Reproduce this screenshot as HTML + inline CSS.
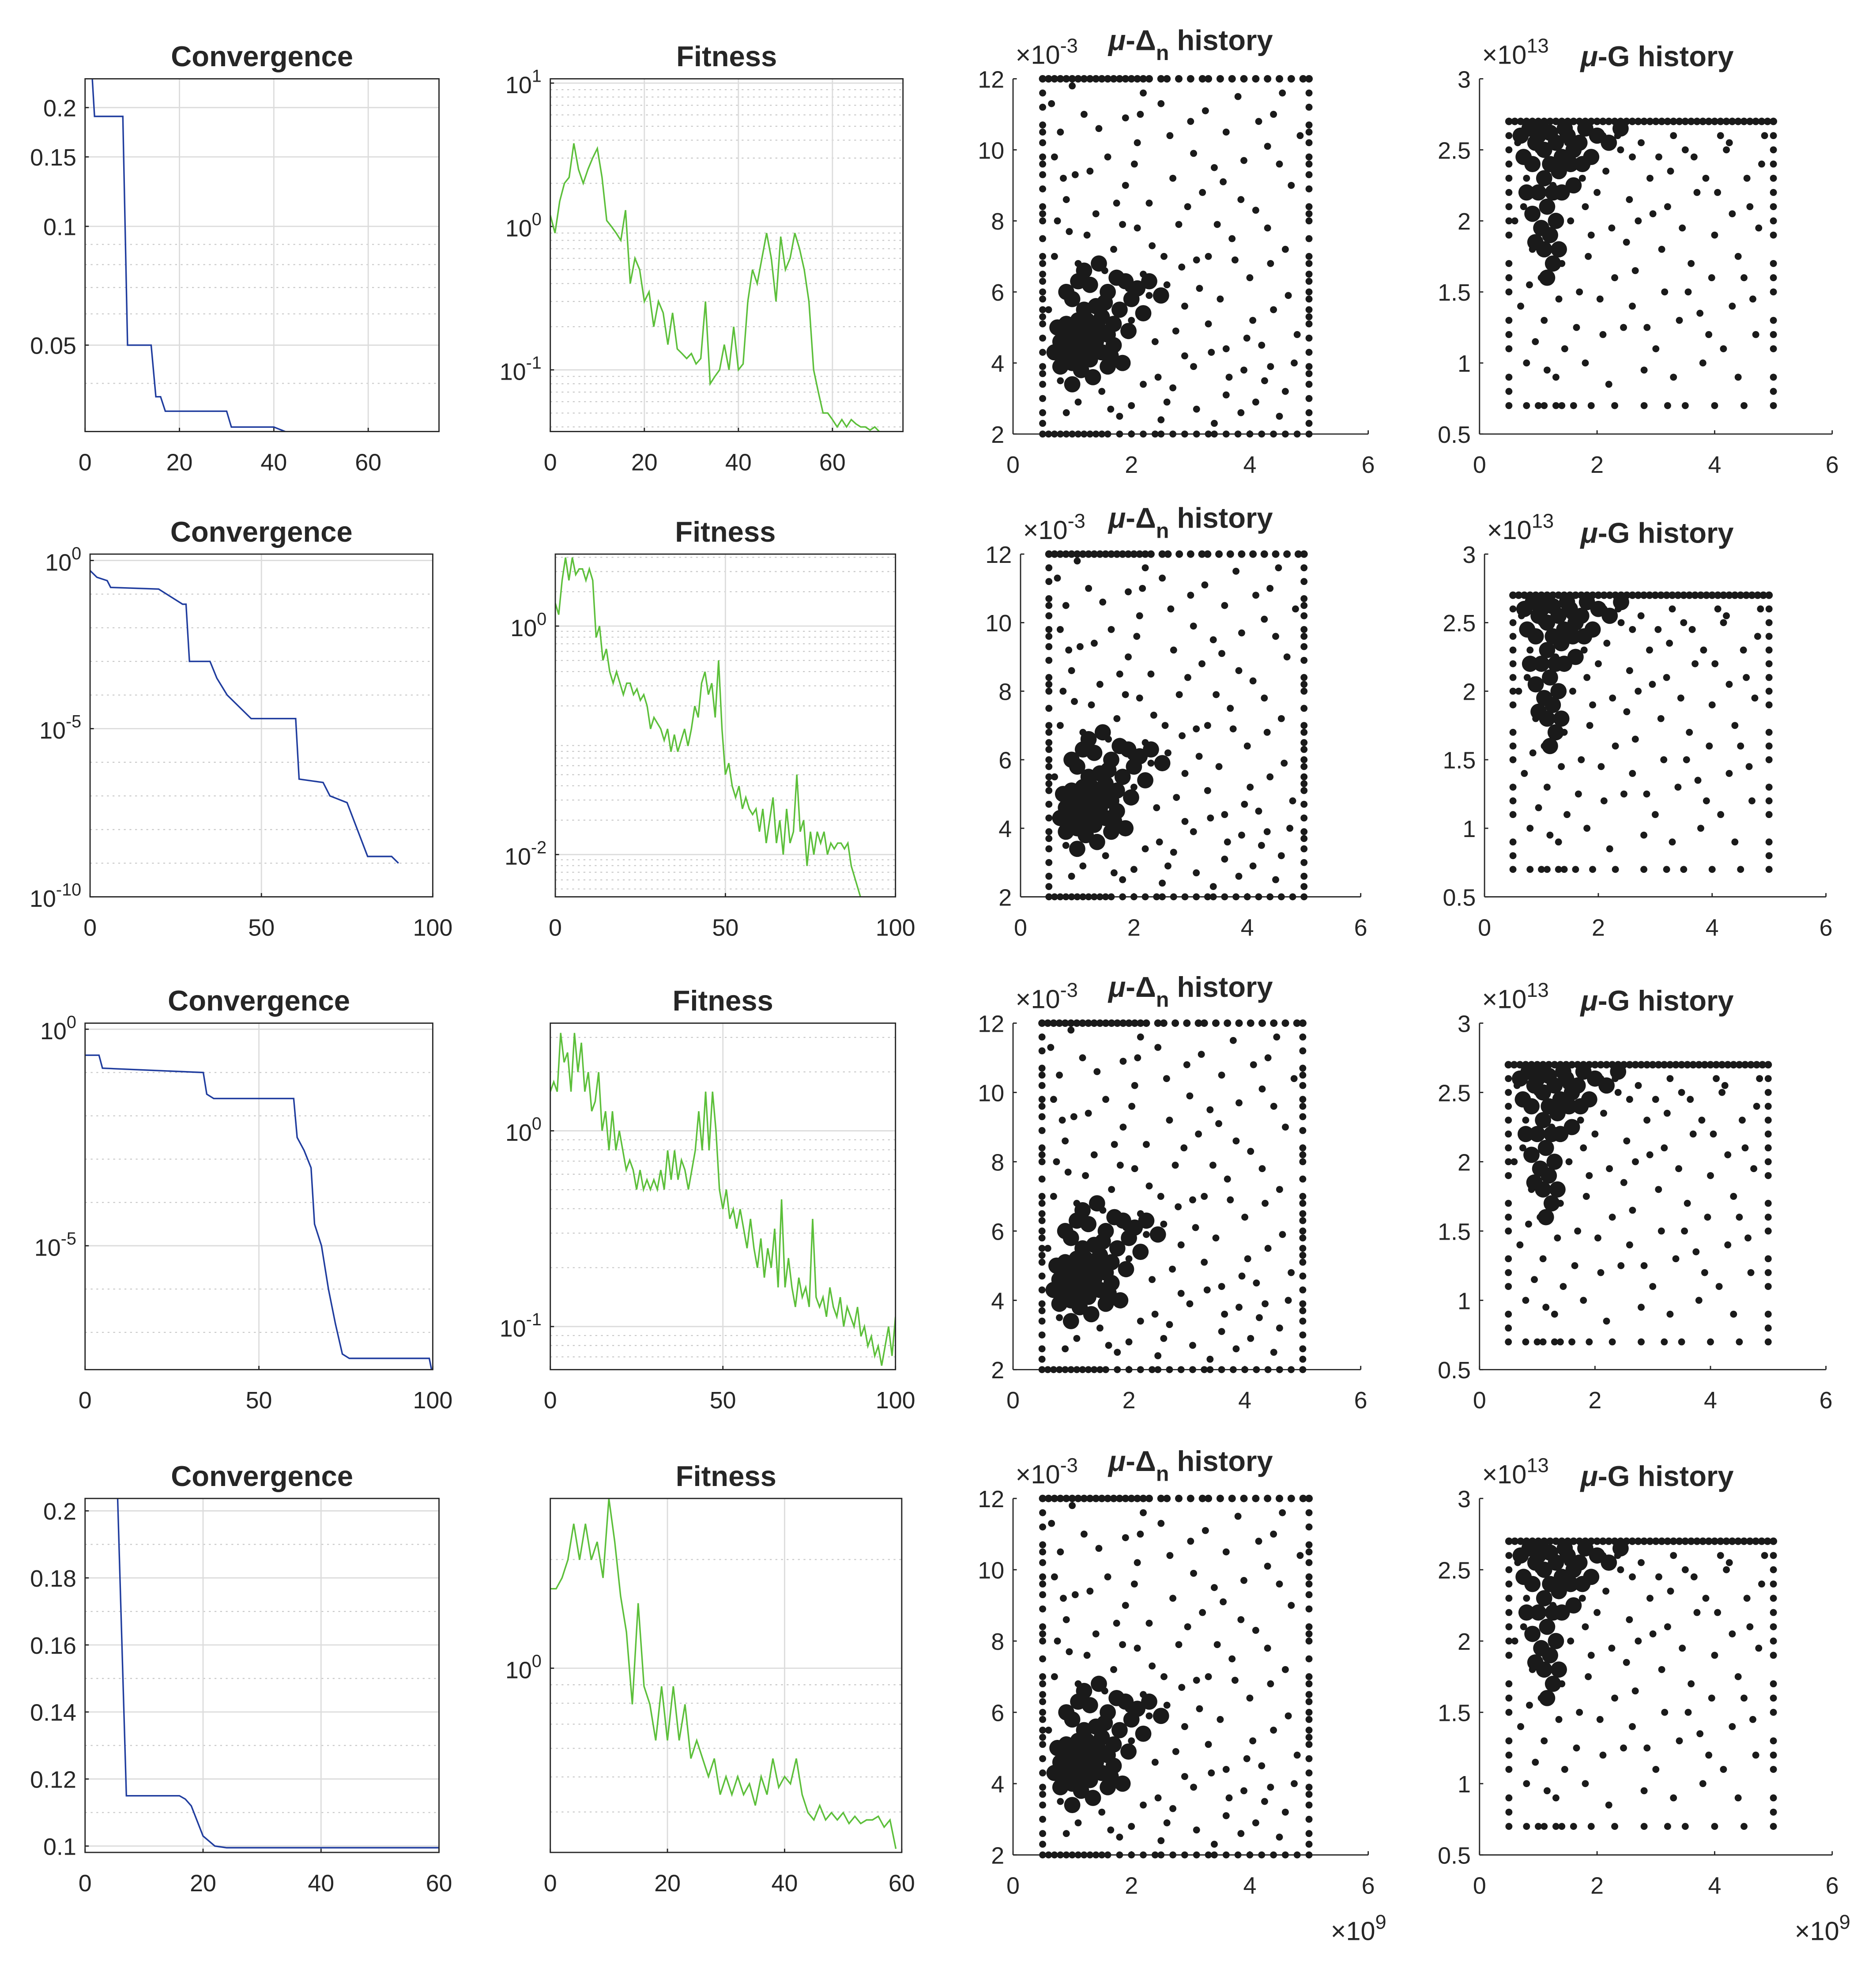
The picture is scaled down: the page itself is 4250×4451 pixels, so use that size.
<!DOCTYPE html>
<html><head><meta charset="utf-8"><style>
html,body{margin:0;padding:0;background:#fff}
svg{display:block}
text{font-family:"Liberation Sans",Arial,sans-serif;fill:#262626}
</style></head><body>
<svg id="fig" xmlns="http://www.w3.org/2000/svg" width="4250" height="4451" viewBox="0 0 1500 1571"></svg>
<script>
// ---------- data ----------
const conv1X=[0,1.5,2,8,9,14,15,16,17,30,31,40,43,46,75];
const conv1Y=[0.24,0.24,0.19,0.19,0.05,0.05,0.037,0.037,0.034,0.034,0.031,0.031,0.030,0.029,0.029];
const fit1Y=[1.2,0.9,1.5,2,2.2,3.8,2.5,2,2.5,3,3.5,2.2,1.1,1,0.9,0.8,1.3,0.4,0.6,0.5,0.3,0.35,0.2,0.3,0.25,0.15,0.25,0.14,0.13,0.12,0.13,0.11,0.12,0.3,0.08,0.09,0.1,0.15,0.1,0.2,0.1,0.11,0.3,0.5,0.4,0.6,0.9,0.6,0.3,0.85,0.5,0.6,0.9,0.7,0.5,0.3,0.1,0.07,0.05,0.05,0.045,0.04,0.045,0.04,0.045,0.042,0.04,0.04,0.038,0.04,0.037,0.036,0.037,0.036,0.037,0.037];
const conv2X=[0,2,5,6,20,27,28,29,35,37,40,45,47,60,61,68,70,75,78,81,88,90];
const conv2LogY=[-0.3,-0.5,-0.6,-0.8,-0.85,-1.3,-1.3,-3,-3,-3.5,-4,-4.5,-4.7,-4.7,-6.5,-6.6,-7,-7.2,-8,-8.8,-8.8,-9];
const fit2LogY=[0.2,0.1,0.4,0.6,0.4,0.6,0.45,0.5,0.5,0.4,0.5,0.4,-0.1,0,-0.3,-0.2,-0.4,-0.5,-0.4,-0.5,-0.6,-0.5,-0.5,-0.6,-0.55,-0.65,-0.6,-0.7,-0.9,-0.8,-0.85,-0.9,-1,-0.9,-1.1,-0.95,-1.1,-1,-0.9,-1.05,-0.9,-0.7,-0.8,-0.5,-0.4,-0.6,-0.5,-0.8,-0.3,-0.9,-1.3,-1.2,-1.4,-1.5,-1.4,-1.6,-1.5,-1.6,-1.65,-1.6,-1.8,-1.6,-1.9,-1.7,-1.5,-1.9,-1.7,-2,-1.6,-1.9,-1.8,-1.3,-1.8,-1.7,-2.1,-1.8,-2,-1.8,-1.9,-1.8,-2,-1.9,-1.95,-1.9,-1.9,-1.95,-1.9,-2.1,-2.2,-2.3,-2.4];
const conv3X=[0,4,5,34,35,37,60,61,63,65,66,68,70,72,74,76,99,100];
const conv3LogY=[-0.6,-0.6,-0.9,-1,-1.5,-1.6,-1.6,-2.5,-2.8,-3.2,-4.5,-5,-6,-6.8,-7.5,-7.6,-7.6,-8];
const fit3LogY=[0.2,0.25,0.2,0.5,0.35,0.4,0.2,0.5,0.3,0.45,0.2,0.3,0.1,0.15,0.3,0,0.1,-0.1,0.1,-0.1,0,-0.1,-0.2,-0.15,-0.2,-0.3,-0.2,-0.3,-0.25,-0.3,-0.25,-0.3,-0.2,-0.3,-0.1,-0.25,-0.1,-0.25,-0.15,-0.2,-0.3,-0.2,-0.1,0.1,-0.1,0.2,-0.1,0.2,0,-0.3,-0.4,-0.3,-0.45,-0.4,-0.5,-0.4,-0.5,-0.6,-0.45,-0.6,-0.7,-0.55,-0.75,-0.6,-0.7,-0.5,-0.8,-0.35,-0.8,-0.65,-0.8,-0.9,-0.75,-0.85,-0.8,-0.9,-0.45,-0.85,-0.9,-0.85,-0.95,-0.8,-0.9,-0.95,-0.85,-1,-0.9,-0.95,-1,-0.9,-1.05,-1,-1.1,-1.05,-1.15,-1.1,-1.2,-1.1,-1,-1.15,-0.95];
const conv4X=[0,5.5,7,16,17,18,20,22,24,60];
const conv4Y=[0.21,0.205,0.115,0.115,0.114,0.112,0.103,0.1,0.0995,0.0995];
const fit4LogY=[0.22,0.22,0.25,0.3,0.4,0.3,0.4,0.3,0.35,0.25,0.47,0.35,0.2,0.1,-0.1,0.18,-0.05,-0.1,-0.2,-0.05,-0.2,-0.05,-0.2,-0.1,-0.25,-0.2,-0.25,-0.3,-0.25,-0.35,-0.3,-0.35,-0.3,-0.35,-0.32,-0.38,-0.3,-0.35,-0.25,-0.33,-0.3,-0.32,-0.25,-0.35,-0.4,-0.42,-0.38,-0.42,-0.4,-0.42,-0.4,-0.43,-0.41,-0.43,-0.42,-0.42,-0.41,-0.44,-0.42,-0.5];

const deltaPts=[[0.8,10.5],[1.2,11],[1.6,9.8],[2.1,10.2],[2.5,11.3],[3,10.8],[3.4,9.5],[3.8,11.5],[4.3,10.1],[4.7,9],[0.9,8.6],[1.4,8.2],[1.9,9],[2.3,8.5],[2.8,7.9],[3.2,8.8],[3.7,7.5],[4.1,8.3],[4.6,7.2],[0.7,7],[1.1,6.8],[1.7,7.2],[2.2,6.5],[2.6,6.2],[3.1,6.9],[3.5,5.8],[4,6.4],[4.4,5.5],[4.8,4.8],[0.6,5.5],[2,5.2],[2.4,4.6],[2.9,4.2],[3.3,5.1],[3.9,3.8],[4.2,4.5],[4.6,3.2],[0.8,3.5],[1.5,3.2],[2,2.8],[2.7,3.3],[3.1,2.7],[3.6,3.1],[4.1,2.9],[4.5,2.5],[0.9,2.6],[1.8,2.5],[2.5,2.4],[3.4,2.3],[1.3,9.4],[2.7,9.2],[3.9,9.7],[4.4,11],[1,11.8],[2.2,11.6],[3.3,7],[1.6,5.9],[2.1,7.8],[2.9,5.6],[3.6,4.4],[4.3,7.8],[1.2,3.9],[0.7,9.8],[1.9,10.9],
[0.65,11.3],[1.05,9.3],[1.45,10.6],[1.75,8.5],[2.05,9.6],[2.35,7.3],[2.65,10.4],[2.95,8.4],[3.25,11.1],[3.55,9.1],[3.85,8.6],[4.15,10.8],[4.5,9.6],[4.85,10.4],[0.75,8],[1.25,7.6],[1.55,6.6],[1.95,6.1],[2.3,5.9],[2.55,7],[2.85,6.7],[3.15,6.1],[3.45,7.9],[3.75,6.9],[4.05,5.2],[4.35,6.8],[4.65,5.9],[0.95,7.7],[1.85,7.9],[2.45,3.6],[2.75,4.9],[3.05,3.9],[3.35,4.3],[3.65,3.6],[3.95,4.7],[4.25,3.5],[4.75,4],[1.1,2.9],[1.65,2.7],[2.2,3.4],[2.6,2.9],[3.85,2.6],[4.35,3.9],[0.85,9.2],[2.15,11],[3.05,9.9],[3.6,10.5],[4.55,11.6]];
const deltaCluster=[[1,4.5],[1.1,4.8],[1.2,4.3],[1.3,5],[1.4,4.6],[0.9,5.1],[1.5,5.3],[1.2,5.5],[1,4],[1.3,4.1],[1.6,4.8],[0.8,4.6],[1.1,5.2],[1.4,5.6],[1.7,5.1],[1.2,4.9],[1.05,4.4],[1.35,4.4],[1.25,5.2],[0.95,4.85],[1.5,4.3],[1.15,3.8],[1.8,5.5],[1.6,6],[1.3,6.2],[1,5.8],[1.45,4.95],[1.15,4.6],[1.28,4.7],[1.4,5.1],[0.85,4.3],[1.7,4.5],[1.55,5.7],[1.1,4.1],[2,5.8],[1.9,6.3],[1.2,6.6],[0.9,6],[1.35,3.6],[1.6,3.9],[0.75,5],[0.8,3.9],[1.0,3.4],[1.65,4.2],[1.75,6.4],[2.1,6.1],[2.2,5.4],[1.95,4.9],[0.7,4.3],[1.45,6.8],[1.1,6.3],[1.85,4],[2.3,6.3],[2.5,5.9]];
const deltaTopX=[0.5,0.6,0.7,0.8,0.9,1,1.1,1.2,1.3,1.4,1.5,1.6,1.7,1.8,1.9,2,2.1,2.2,2.3,2.5,2.6,2.8,3,3.2,3.3,3.5,3.7,3.9,4.1,4.3,4.5,4.7,4.9,5];
const deltaBottomX=[0.5,0.6,0.7,0.8,0.9,1,1.1,1.2,1.3,1.4,1.5,1.6,1.8,2,2.2,2.4,2.5,2.7,2.9,3.1,3.3,3.4,3.6,3.8,4,4.2,4.4,4.6,4.8,5];
const deltaEdgeY=[2.3,2.6,3,3.4,3.7,3.9,4.3,4.7,5.1,5.3,5.5,5.8,6,6.3,6.5,6.8,7,7.5,8,8.2,8.4,8.9,9.3,9.6,9.8,10.2,10.5,10.7,11.2,11.6];
const gPts=[[0.8,2.3],[1.2,2.1],[1.6,2.4],[2,2.2],[2.4,2.5],[2.9,2.3],[3.3,2.6],[3.7,2.2],[4.2,2.5],[4.6,2.1],[0.9,1.8],[1.4,1.7],[1.9,1.9],[2.3,1.6],[2.7,2],[3.1,1.8],[3.6,1.7],[4,1.9],[4.5,1.6],[0.7,1.4],[1.1,1.3],[1.7,1.5],[2.1,1.2],[2.6,1.4],[3,1.1],[3.4,1.3],[3.9,1.2],[4.3,1.4],[4.7,1.2],[0.8,1],[1.3,0.9],[1.8,1],[2.2,0.85],[2.8,0.95],[3.3,0.9],[3.8,1],[4.4,0.9],[1,2.5],[1.5,2.55],[2.1,2.6],[2.6,2.45],[3.5,2.5],[4.1,2.6],[4.8,2.4],[1.25,2.25],[1.8,2.1],[2.5,1.85],[3.2,2.1],[4.3,2.05],[0.6,2],
[0.65,2.55],[0.75,2.1],[0.85,1.55],[0.95,1.15],[1.05,1.6],[1.15,0.95],[1.35,1.45],[1.45,1.1],[1.55,2],[1.65,1.25],[1.75,2.3],[1.85,1.75],[1.95,2.45],[2.05,1.45],[2.15,2.35],[2.25,1.95],[2.35,2.6],[2.45,1.25],[2.55,2.15],[2.65,1.65],[2.75,2.55],[2.85,1.25],[2.95,2.05],[3.05,2.45],[3.15,1.5],[3.25,2.35],[3.45,1.95],[3.55,1.5],[3.65,2.45],[3.75,1.35],[3.85,2.3],[3.95,1.6],[4.05,2.2],[4.15,1.1],[4.25,2.55],[4.4,1.75],[4.55,2.3],[4.65,1.45],[4.75,1.95],[4.85,2.6]];
const gCluster=[[1,2.6],[1.1,2.5],[1.2,2.4],[1.3,2.55],[1.4,2.45],[1.5,2.6],[0.9,2.4],[1.1,2.3],[1.25,2.2],[1.35,2.35],[1.6,2.5],[1.05,2.65],[1.45,2.65],[1.2,2.62],[1.7,2.55],[1.15,2.1],[1,2.2],[1.3,2],[0.95,2.55],[1.55,2.4],[1.8,2.65],[2,2.6],[1.4,2.2],[1.2,1.9],[1.1,1.8],[0.85,2.65],[0.7,2.6],[0.75,2.45],[0.8,2.2],[0.9,2.05],[1.05,1.95],[1.25,1.7],[1.15,1.6],[0.95,1.85],[1.35,1.8],[1.6,2.25],[1.75,2.4],[2.2,2.55],[2.4,2.65],[1.9,2.45]];
const gTopX=[0.5,0.6,0.7,0.8,0.9,1,1.1,1.2,1.3,1.4,1.5,1.6,1.7,1.8,1.9,2,2.1,2.2,2.3,2.4,2.5,2.6,2.7,2.8,2.9,3,3.1,3.2,3.3,3.4,3.5,3.6,3.7,3.8,3.9,4,4.1,4.2,4.3,4.4,4.5,4.6,4.7,4.8,4.9,5];
const gBottomX=[0.5,0.8,1.0,1.1,1.3,1.4,1.6,1.9,2.3,2.8,3.2,3.5,4,4.5,5];
const gEdgeY=[0.8,0.9,1.1,1.2,1.3,1.5,1.6,1.7,1.9,2,2.1,2.2,2.3,2.4,2.5,2.6];

// ---------- drawing ----------
const svg=document.getElementById('fig');
const NS='http://www.w3.org/2000/svg';
function mk(tag,attrs,parent){const e=document.createElementNS(NS,tag);for(const k in attrs)e.setAttribute(k,attrs[k]);(parent||svg).appendChild(e);return e;}
function txt(s,x,y,size,anchor,parent,bold){const t=mk('text',{x:x,y:y,'font-size':size,'text-anchor':anchor||'middle'},parent);if(bold)t.setAttribute('font-weight','bold');t.textContent=s;return t;}
function pow10(exp,x,y,parent){const t=mk('text',{x:x,y:y,'font-size':19,'text-anchor':'end'},parent);t.appendChild(document.createTextNode('10'));const s=mk('tspan',{dy:-9,'font-size':14},t);s.textContent=exp;return t;}

function linePanel(P){
  const g=mk('g',{});
  
  
  const sx=v=>P.x0+(v-P.xr[0])/(P.xr[1]-P.xr[0])*(P.x1-P.x0);
  const sy=v=>P.y1-(v-P.yr[0])/(P.yr[1]-P.yr[0])*(P.y1-P.y0);
  mk('rect',{x:P.x0,y:P.y0,width:P.x1-P.x0,height:P.y1-P.y0,fill:'#fff'},g);
  if(P.log){
    for(let d=Math.floor(P.yr[0]);d<=Math.ceil(P.yr[1]);d++){
      const ks=P.minorKs||[2,3,4,5,6,7,8,9];
      ks.forEach(k=>{const v=d+Math.log10(k);if(v>P.yr[0]&&v<P.yr[1]){mk('line',{x1:P.x0,x2:P.x1,y1:sy(v),y2:sy(v),stroke:'#c8c8c8','stroke-width':0.8,'stroke-dasharray':'1.5 3'},g);}});
    }
  }
  (P.yminor||[]).forEach(v=>mk('line',{x1:P.x0,x2:P.x1,y1:sy(v),y2:sy(v),stroke:'#c8c8c8','stroke-width':0.8,'stroke-dasharray':'1.5 3'},g));
  P.xticks.forEach(v=>{const x=sx(v);mk('line',{x1:x,x2:x,y1:P.y0,y2:P.y1,stroke:'#dcdcdc','stroke-width':1},g);mk('line',{x1:x,x2:x,y1:P.y1,y2:P.y1-3,stroke:'#262626'},g);txt(String(v),x,P.y1+31,19,'middle',g);});
  P.yticks.forEach((v,i)=>{const y=sy(v);mk('line',{x1:P.x0,x2:P.x1,y1:y,y2:y,stroke:'#dcdcdc','stroke-width':1},g);mk('line',{x1:P.x0,x2:P.x0+3,y1:y,y2:y,stroke:'#262626'},g);
    if(P.log)pow10(P.ylabels[i],P.x0-7,y+8,g);else txt(P.ylabels[i],P.x0-7,y+7,19,'end',g);});
  const cp='cp'+P.name;const cl=mk('clipPath',{id:cp},g);mk('rect',{x:P.x0,y:P.y0,width:P.x1-P.x0,height:P.y1-P.y0},cl);
  let d='';P.xs.forEach((x,i)=>{d+=(i?'L':'M')+sx(x).toFixed(2)+' '+sy(P.ys[i]).toFixed(2);});
  const path=mk('path',{d:d,fill:'none',stroke:P.color,'stroke-width':1.2,'clip-path':'url(#'+cp+')'},g);
  
  
  mk('rect',{x:P.x0,y:P.y0,width:P.x1-P.x0,height:P.y1-P.y0,fill:'none',stroke:'#262626','stroke-width':1},g);
  const t=txt(P.title,(P.x0+P.x1)/2,P.ty,23,'middle',g,true);
  
  
}

function scatterPanel(P){
  const g=mk('g',{});
  
  
  const sx=v=>P.x0+(v-0)/6*(P.x1-P.x0);
  const sy=v=>P.y1-(v-P.yr[0])/(P.yr[1]-P.yr[0])*(P.y1-P.y0);
  mk('line',{x1:P.x0,x2:P.x1,y1:P.y1,y2:P.y1,stroke:'#262626'},g);
  mk('line',{x1:P.x0,x2:P.x0,y1:P.y0,y2:P.y1,stroke:'#262626'},g);
  [0,2,4,6].forEach(v=>{const x=sx(v);mk('line',{x1:x,x2:x,y1:P.y1,y2:P.y1-3,stroke:'#262626'},g);txt(String(v),x,P.y1+31,19,'middle',g);});
  P.yticks.forEach(v=>{const y=sy(v);mk('line',{x1:P.x0,x2:P.x0+3,y1:y,y2:y,stroke:'#262626'},g);txt(String(v),P.x0-7,y+7,19,'end',g);});
  const pts=[];
  P.pts.forEach(p=>pts.push([p[0],p[1],2.8]));
  P.cluster.forEach(p=>pts.push([p[0],p[1],6.5]));
  P.topX.forEach(x=>pts.push([x,P.top,3]));
  P.bottomX.forEach(x=>pts.push([x,P.bottom,2.8]));
  P.edgeY.forEach(y=>{pts.push([0.5,y,2.8]);pts.push([5,y,2.8]);});
  pts.forEach(p=>{const c=mk('circle',{cx:sx(p[0]).toFixed(2),cy:sy(p[1]).toFixed(2),r:p[2],fill:'#1a1a1a'},g);
    
    });
  const e=mk('text',{x:P.x0+2,y:P.y0-12,'font-size':21,'text-anchor':'start'},g);
  e.appendChild(document.createTextNode('×10'));const s=mk('tspan',{dy:-9,'font-size':16},e);s.textContent=P.exp;
  
  
  const t=mk('text',{x:P.tx,y:P.ty,'font-size':23,'font-weight':'bold','text-anchor':'middle'},g);
  const mu=mk('tspan',{'font-style':'italic'},t);mu.textContent='μ';
  t.appendChild(document.createTextNode(P.isDelta?'-Δ':'-G history'));
  if(P.isDelta){const sub=mk('tspan',{dy:8,'font-size':17},t);sub.textContent='n';const h=mk('tspan',{dy:-8},t);h.textContent=' history';}
  
  
  if(P.showX){const xe=mk('text',{x:P.x1-30,y:P.y1+68,'font-size':21,'text-anchor':'start'},g);xe.appendChild(document.createTextNode('×10'));const s2=mk('tspan',{dy:-9,'font-size':16},xe);s2.textContent='9';
    
    }
}

const idx=n=>Array.from({length:n},(_,i)=>i);
const rows=[{y0:63,y1:345},{y0:443,y1:717},{y0:818,y1:1095},{y0:1198,y1:1481}];
const L=Math.log10;
linePanel({name:'convergence-1',seriesName:'convergence-line-1',title:'Convergence',ty:53,x0:68,x1:351,...rows[0],xr:[0,75],yr:[L(0.0302),L(0.2366)],log:false,xticks:[0,20,40,60],yticks:[0.05,0.1,0.15,0.2].map(L),ylabels:['0.05','0.1','0.15','0.2'],yminor:[0.04,0.06,0.07,0.08,0.09].map(L),xs:conv1X,ys:conv1Y.map(L),color:'#1f3c9e'});
linePanel({name:'fitness-1',seriesName:'fitness-line-1',title:'Fitness',ty:53,x0:440,x1:722,...rows[0],xr:[0,75],yr:[-1.43,1.03],log:true,xticks:[0,20,40,60],yticks:[-1,0,1],ylabels:['-1','0','1'],xs:idx(fit1Y.length),ys:fit1Y.map(L),color:'#5cbf3a'});
linePanel({name:'convergence-2',seriesName:'convergence-line-2',title:'Convergence',ty:433,x0:72,x1:346,...rows[1],xr:[0,100],yr:[-10,0.19],log:true,minorKs:[],yminor:[-9,-8,-7,-6,-4,-3,-2,-1],xticks:[0,50,100],yticks:[-10,-5,0],ylabels:['-10','-5','0'],xs:conv2X,ys:conv2LogY,color:'#1f3c9e'});
linePanel({name:'fitness-2',seriesName:'fitness-line-2',title:'Fitness',ty:433,x0:444,x1:716,...rows[1],xr:[0,100],yr:[-2.37,0.63],log:true,xticks:[0,50,100],yticks:[-2,0],ylabels:['-2','0'],xs:idx(fit2LogY.length),ys:fit2LogY,color:'#5cbf3a'});
linePanel({name:'convergence-3',seriesName:'convergence-line-3',title:'Convergence',ty:808,x0:68,x1:346,...rows[2],xr:[0,100],yr:[-7.86,0.14],log:true,minorKs:[],yminor:[-7,-6,-4,-3,-2,-1],xticks:[0,50,100],yticks:[-5,0],ylabels:['-5','0'],xs:conv3X,ys:conv3LogY,color:'#1f3c9e'});
linePanel({name:'fitness-3',seriesName:'fitness-line-3',title:'Fitness',ty:808,x0:440,x1:716,...rows[2],xr:[0,100],yr:[-1.22,0.55],log:true,xticks:[0,50,100],yticks:[-1,0],ylabels:['-1','0'],xs:idx(fit3LogY.length),ys:fit3LogY,color:'#5cbf3a'});
linePanel({name:'convergence-4',seriesName:'convergence-line-4',title:'Convergence',ty:1188,x0:68,x1:351,...rows[3],xr:[0,60],yr:[0.0981,0.2037],log:false,xticks:[0,20,40,60],yticks:[0.1,0.12,0.14,0.16,0.18,0.2],ylabels:['0.1','0.12','0.14','0.16','0.18','0.2'],yminor:[0.11,0.13,0.15,0.17,0.19],xs:conv4X,ys:conv4Y,color:'#1f3c9e'});
linePanel({name:'fitness-4',seriesName:'fitness-line-4',title:'Fitness',ty:1188,x0:440,x1:721,...rows[3],xr:[0,60],yr:[-0.51,0.47],log:true,xticks:[0,20,40,60],yticks:[0],ylabels:['0'],xs:idx(fit4LogY.length),ys:fit4LogY,color:'#5cbf3a'});
const dX=[[810,1094],[816,1088],[810,1088],[810,1094]];
const gX=[[1183,1465],[1187,1460],[1183,1460],[1183,1465]];
const dTy=[40,422,797,1176],gTy=[53,434,808,1188];
const yB=[347,717,1095,1483];
for(let r=0;r<4;r++){
  scatterPanel({name:'mu-delta-history-'+(r+1),isDelta:true,x0:dX[r][0],x1:dX[r][1],y0:rows[r].y0,y1:yB[r],yr:[2,12],yticks:[2,4,6,8,10,12],pts:deltaPts,cluster:deltaCluster,topX:deltaTopX,bottomX:deltaBottomX,edgeY:deltaEdgeY,top:12,bottom:2,exp:'-3',tx:952,ty:dTy[r],showX:r===3});
  scatterPanel({name:'mu-g-history-'+(r+1),isDelta:false,x0:gX[r][0],x1:gX[r][1],y0:rows[r].y0,y1:yB[r],yr:[0.5,3],yticks:[0.5,1,1.5,2,2.5,3],pts:gPts,cluster:gCluster,topX:gTopX,bottomX:gBottomX,edgeY:gEdgeY,top:2.7,bottom:0.7,exp:'13',tx:1325,ty:gTy[r],showX:r===3});
}
</script>
</body></html>
